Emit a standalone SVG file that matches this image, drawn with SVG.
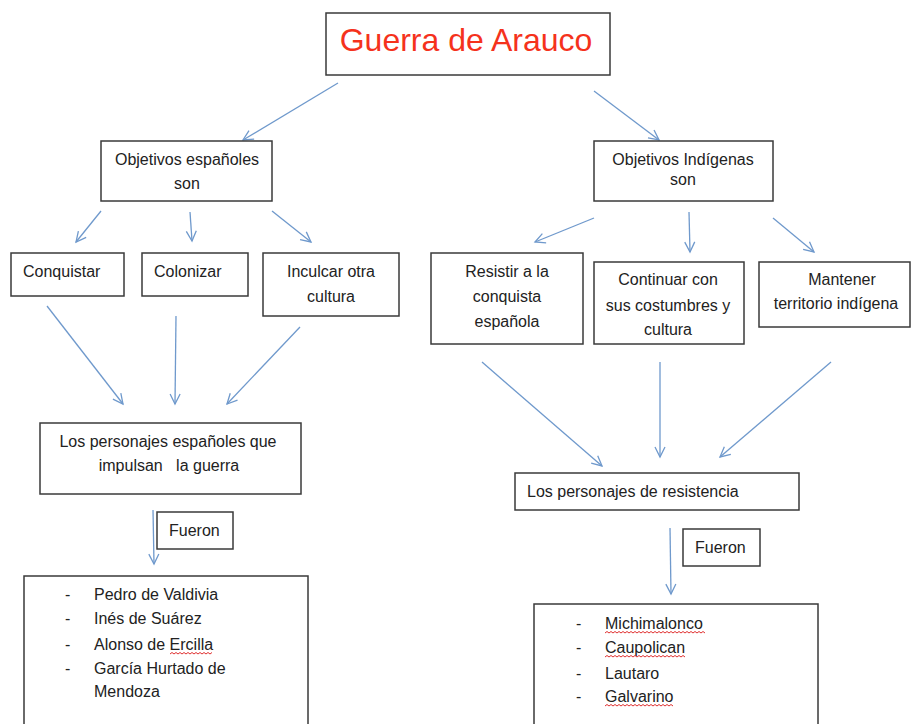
<svg xmlns="http://www.w3.org/2000/svg" width="912" height="724" viewBox="0 0 912 724">
<style>
.box{fill:#fff;stroke:#3a3a3a;stroke-width:1.5}
.t{font-family:"Liberation Sans",Arial,sans-serif;font-size:16px;fill:#222}
.c{text-anchor:middle}
.title{font-family:"Liberation Sans",Arial,sans-serif;font-size:32px;fill:#f5321c;text-anchor:middle}
.ar{stroke:#6f99cc;stroke-width:1.3;fill:none;marker-end:url(#ah)}
.wave{stroke:#e03030;stroke-width:1;fill:none}
</style>
<defs>
<marker id="ah" markerUnits="userSpaceOnUse" markerWidth="14" markerHeight="14" refX="11" refY="6" orient="auto" viewBox="0 0 14 12">
<path d="M1,1 L11,6 L1,11" fill="none" stroke="#6f99cc" stroke-width="1.3"/>
</marker>
</defs>
<rect width="912" height="724" fill="#fff"/>
<g id="connectors">
<line class="ar" x1="338" y1="83" x2="243" y2="140"/>
<line class="ar" x1="594" y1="91" x2="659" y2="140"/>
<line class="ar" x1="101" y1="211" x2="76" y2="242"/>
<line class="ar" x1="190" y1="212" x2="192" y2="241"/>
<line class="ar" x1="272" y1="211" x2="311" y2="242"/>
<line class="ar" x1="594" y1="218" x2="535" y2="242"/>
<line class="ar" x1="689" y1="212" x2="690" y2="252"/>
<line class="ar" x1="773" y1="218" x2="814" y2="252"/>
<line class="ar" x1="47" y1="306" x2="123" y2="404"/>
<line class="ar" x1="176" y1="316" x2="175" y2="404"/>
<line class="ar" x1="300" y1="327" x2="227" y2="404"/>
<line class="ar" x1="482" y1="362" x2="602" y2="466"/>
<line class="ar" x1="660" y1="362" x2="660" y2="457"/>
<line class="ar" x1="831" y1="362" x2="720" y2="457"/>
<line class="ar" x1="153" y1="510" x2="154" y2="564"/>
<line class="ar" x1="670" y1="528" x2="671" y2="594"/>
</g>
<g id="title">
<rect class="box" x="326" y="13" width="284" height="62"/>
<text class="title" x="466" y="51">Guerra de Arauco</text>
</g>
<g id="obj-esp">
<rect class="box" x="101" y="141" width="171" height="60"/>
<text class="t c" x="187" y="165">Objetivos españoles</text>
<text class="t c" x="187" y="189">son</text>
</g>
<g id="obj-ind">
<rect class="box" x="594" y="141" width="179" height="60"/>
<text class="t c" x="683" y="165">Objetivos Indígenas</text>
<text class="t c" x="683" y="185">son</text>
</g>
<g id="conquistar">
<rect class="box" x="11" y="253" width="113" height="43"/>
<text class="t" x="23" y="277">Conquistar</text>
</g>
<g id="colonizar">
<rect class="box" x="142" y="253" width="106" height="43"/>
<text class="t" x="154" y="277">Colonizar</text>
</g>
<g id="inculcar">
<rect class="box" x="263" y="253" width="136" height="63"/>
<text class="t c" x="331" y="277">Inculcar otra</text>
<text class="t c" x="331" y="302">cultura</text>
</g>
<g id="resistir">
<rect class="box" x="431" y="253" width="152" height="91"/>
<text class="t c" x="507" y="277">Resistir a la</text>
<text class="t c" x="507" y="302">conquista</text>
<text class="t c" x="507" y="327">española</text>
</g>
<g id="continuar">
<rect class="box" x="594" y="262" width="150" height="82"/>
<text class="t c" x="668" y="285">Continuar con</text>
<text class="t c" x="668" y="311">sus costumbres y</text>
<text class="t c" x="668" y="335">cultura</text>
</g>
<g id="mantener">
<rect class="box" x="759" y="262" width="151" height="65"/>
<text class="t c" x="842" y="285">Mantener</text>
<text class="t c" x="836" y="309">territorio indígena</text>
</g>
<g id="pers-esp">
<rect class="box" x="40" y="423" width="261" height="71"/>
<text class="t c" x="168" y="447">Los personajes españoles que</text>
<text class="t c" x="169" y="471" xml:space="preserve">impulsan   la guerra</text>
</g>
<g id="fueron-esp">
<rect class="box" x="157" y="512" width="76" height="37"/>
<text class="t" x="169" y="536">Fueron</text>
</g>
<g id="lista-esp">
<rect class="box" x="24" y="576" width="284" height="160"/>
<text class="t" x="65" y="600">-</text>
<text class="t" x="94" y="600">Pedro de Valdivia</text>
<text class="t" x="65" y="624">-</text>
<text class="t" x="94" y="624">Inés de Suárez</text>
<text class="t" x="65" y="650">-</text>
<text class="t" x="94" y="650">Alonso de Ercilla</text>
<text class="t" x="65" y="674">-</text>
<text class="t" x="94" y="674">García Hurtado de</text>
<text class="t" x="94" y="697">Mendoza</text>
<path class="wave" d="M170,654 l2,-1.5 l2,1.5 l2,-1.5 l2,1.5 l2,-1.5 l2,1.5 l2,-1.5 l2,1.5 l2,-1.5 l2,1.5 l2,-1.5 l2,1.5 l2,-1.5 l2,1.5 l2,-1.5 l2,1.5 l2,-1.5 l2,1.5 l2,-1.5 l2,1.5 l2,-1.5"/>
</g>
<g id="pers-res">
<rect class="box" x="515" y="473" width="284" height="37"/>
<text class="t" x="527" y="497">Los personajes de resistencia</text>
</g>
<g id="fueron-res">
<rect class="box" x="683" y="529" width="77" height="37"/>
<text class="t" x="695" y="553">Fueron</text>
</g>
<g id="lista-res">
<rect class="box" x="534" y="604" width="284" height="130"/>
<text class="t" x="576" y="629">-</text>
<text class="t" x="605" y="629">Michimalonco</text>
<text class="t" x="576" y="653">-</text>
<text class="t" x="605" y="653">Caupolican</text>
<text class="t" x="576" y="679">-</text>
<text class="t" x="605" y="679">Lautaro</text>
<text class="t" x="576" y="702">-</text>
<text class="t" x="605" y="702">Galvarino</text>
<path class="wave" d="M605,633 l2,-1.5 l2,1.5 l2,-1.5 l2,1.5 l2,-1.5 l2,1.5 l2,-1.5 l2,1.5 l2,-1.5 l2,1.5 l2,-1.5 l2,1.5 l2,-1.5 l2,1.5 l2,-1.5 l2,1.5 l2,-1.5 l2,1.5 l2,-1.5 l2,1.5 l2,-1.5 l2,1.5 l2,-1.5 l2,1.5 l2,-1.5 l2,1.5 l2,-1.5 l2,1.5 l2,-1.5 l2,1.5 l2,-1.5 l2,1.5 l2,-1.5 l2,1.5 l2,-1.5 l2,1.5 l2,-1.5 l2,1.5 l2,-1.5 l2,1.5 l2,-1.5 l2,1.5 l2,-1.5 l2,1.5 l2,-1.5 l2,1.5 l2,-1.5 l2,1.5 l2,-1.5 l2,1.5"/>
<path class="wave" d="M605,657 l2,-1.5 l2,1.5 l2,-1.5 l2,1.5 l2,-1.5 l2,1.5 l2,-1.5 l2,1.5 l2,-1.5 l2,1.5 l2,-1.5 l2,1.5 l2,-1.5 l2,1.5 l2,-1.5 l2,1.5 l2,-1.5 l2,1.5 l2,-1.5 l2,1.5 l2,-1.5 l2,1.5 l2,-1.5 l2,1.5 l2,-1.5 l2,1.5 l2,-1.5 l2,1.5 l2,-1.5 l2,1.5 l2,-1.5 l2,1.5 l2,-1.5 l2,1.5 l2,-1.5 l2,1.5 l2,-1.5 l2,1.5 l2,-1.5 l2,1.5"/>
<path class="wave" d="M605,706 l2,-1.5 l2,1.5 l2,-1.5 l2,1.5 l2,-1.5 l2,1.5 l2,-1.5 l2,1.5 l2,-1.5 l2,1.5 l2,-1.5 l2,1.5 l2,-1.5 l2,1.5 l2,-1.5 l2,1.5 l2,-1.5 l2,1.5 l2,-1.5 l2,1.5 l2,-1.5 l2,1.5 l2,-1.5 l2,1.5 l2,-1.5 l2,1.5 l2,-1.5 l2,1.5 l2,-1.5 l2,1.5 l2,-1.5 l2,1.5 l2,-1.5 l2,1.5"/>
</g>
</svg>
